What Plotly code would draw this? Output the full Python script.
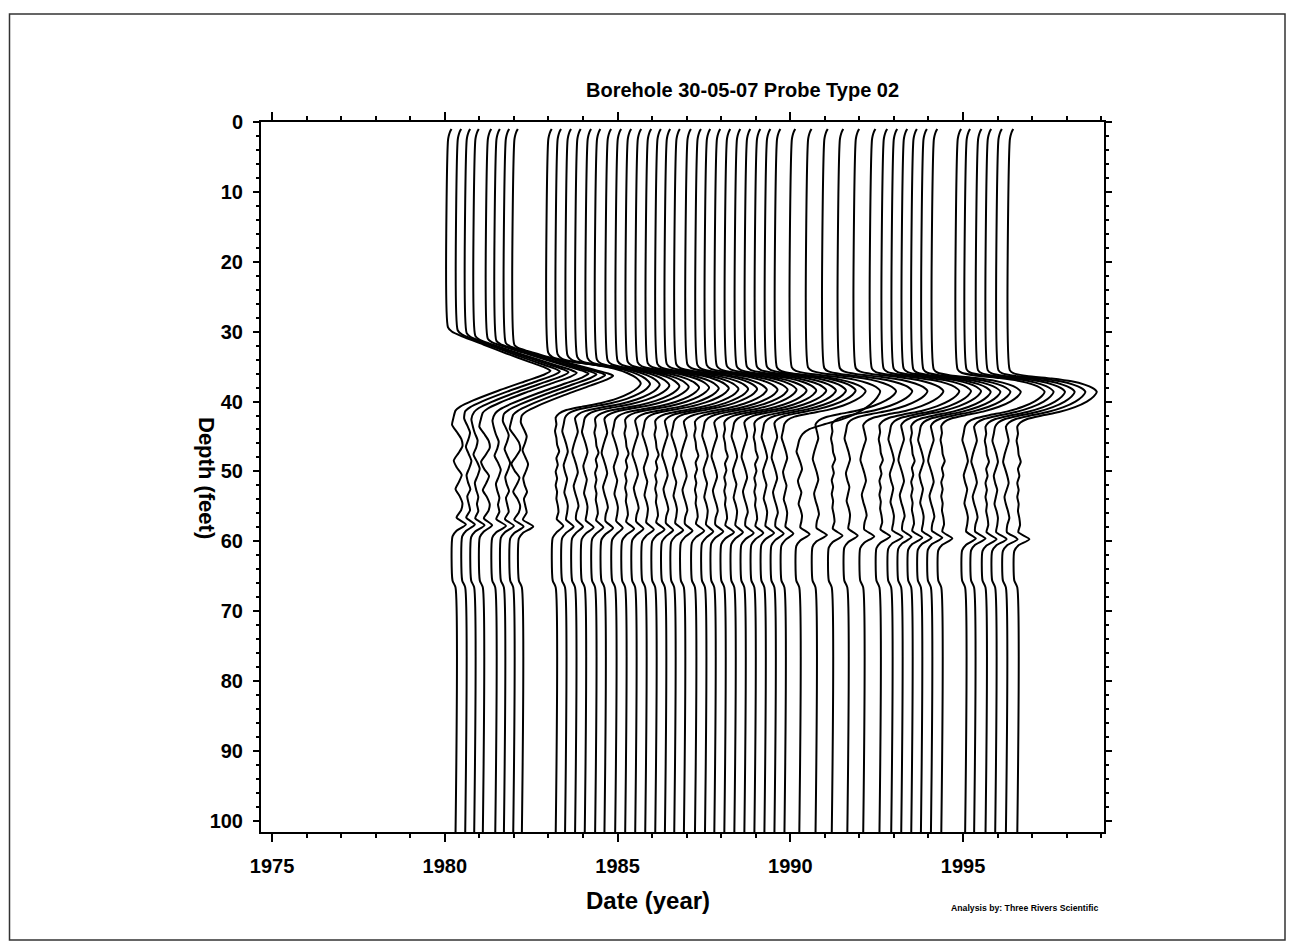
import plotly.graph_objects as go

# ---------------- data ----------------
# Survey dates (baseline of each log at the bottom of the hole), years
DATES = [1980.31, 1980.59, 1980.85, 1981.10, 1981.46, 1981.71, 1981.98, 1982.23,
         1983.21, 1983.48, 1983.77, 1984.05, 1984.35, 1984.62, 1984.93, 1985.22,
         1985.51, 1985.80, 1986.09, 1986.37, 1986.64, 1986.92, 1987.24, 1987.53,
         1987.80, 1988.09, 1988.38, 1988.67, 1988.96, 1989.25, 1989.54, 1989.83,
         1990.26, 1990.73, 1991.20, 1991.65, 1992.11, 1992.58, 1992.92, 1993.21,
         1993.50, 1993.78, 1994.07, 1994.37, 1995.06, 1995.32, 1995.65, 1995.93,
         1996.24, 1996.57]

# depth (ft) where each log starts to swing right
ONSET = [29.4, 29.8, 30.2, 30.6, 31.0, 31.3, 31.6, 31.9,
         33.0, 33.2, 33.4, 33.6, 33.8, 34.0, 34.1, 34.2, 34.3, 34.4, 34.5, 34.6,
         34.6, 34.7, 34.7, 34.8, 34.8, 34.9, 34.9, 35.0, 35.0, 35.0, 35.0, 35.1,
         35.1, 35.1, 35.2, 35.2, 35.2, 35.3, 35.3, 35.3, 35.3, 35.4, 35.4, 35.4,
         35.4, 35.4, 35.5, 35.5, 35.5, 35.5]
# depth (ft) of the peak of the response
TIP = [35.6, 35.7, 35.8, 35.9, 36.0, 36.1, 36.2, 36.3,
       37.4, 37.5, 37.6, 37.7, 37.8, 37.9, 38.0, 38.0, 38.1, 38.1, 38.2, 38.2,
       38.2, 38.3, 38.3, 38.3, 38.3, 38.4, 38.4, 38.4, 38.4, 38.4, 38.4, 38.5,
       38.5, 38.5, 38.5, 38.5, 38.5, 38.5, 38.5, 38.5, 38.6, 38.6, 38.6, 38.6,
       38.6, 38.6, 38.6, 38.6, 38.6, 38.6]
# depth (ft) where the log is back on its baseline
RETURN = [41.3, 41.4, 41.5, 41.6, 41.7, 41.8, 41.9, 42.0,
          42.3, 42.3, 42.4, 42.4, 42.5, 42.5, 42.6, 42.6, 42.7, 42.7, 42.8, 42.8,
          42.8, 42.9, 42.9, 42.9, 43.0, 43.0, 43.0, 43.0, 43.1, 43.1, 43.1, 43.2,
          45.5, 43.3, 43.3, 43.3, 43.4, 43.4, 43.4, 43.4, 43.5, 43.5, 43.5, 43.5,
          43.5, 43.6, 43.6, 43.6, 43.6, 43.6]
# peak deflection (in axis years)
AMP = [2.75, 2.74, 2.73, 2.72, 2.70, 2.68, 2.66, 2.64,
       2.46, 2.46, 2.45, 2.45, 2.44, 2.44, 2.43, 2.43, 2.42, 2.42, 2.41, 2.41,
       2.40, 2.40, 2.39, 2.39, 2.38, 2.38, 2.37, 2.37, 2.36, 2.36, 2.35, 2.35,
       2.34, 2.33, 2.33, 2.32, 2.32, 2.31, 2.31, 2.31, 2.30, 2.30, 2.30, 2.30,
       2.30, 2.30, 2.30, 2.30, 2.30, 2.30]
# depth (ft) and size (years) of the small kick near 58-60 ft
SPIKE_DEPTH = [57.6, 57.6, 57.7, 57.7, 57.8, 57.8, 57.9, 57.9,
               57.8, 57.9, 57.9, 58.0, 58.0, 58.1, 58.1, 58.2, 58.2, 58.3, 58.3, 58.4,
               58.4, 58.5, 58.5, 58.6, 58.6, 58.7, 58.7, 58.8, 58.8, 58.8, 58.9, 58.9,
               59.0, 59.1, 59.2, 59.2, 59.3, 59.3, 59.4, 59.4, 59.5, 59.5, 59.5, 59.6,
               59.6, 59.6, 59.7, 59.7, 59.7, 59.7]
SPIKE_AMP = [0.30, 0.28, 0.30, 0.27, 0.31, 0.29, 0.30, 0.33,
             0.22, 0.25, 0.23, 0.26, 0.24, 0.25, 0.22, 0.26, 0.24, 0.25, 0.27, 0.24,
             0.26, 0.25, 0.27, 0.24, 0.26, 0.28, 0.25, 0.27, 0.26, 0.28, 0.27, 0.26,
             0.30, 0.33, 0.31, 0.30, 0.32, 0.31, 0.33, 0.30, 0.32, 0.31, 0.33, 0.32,
             0.31, 0.33, 0.32, 0.33, 0.34, 0.35]
# which response shape / wiggle pattern each log follows
SHAPE_ID = [0] * 8 + [1] * 42
WIGGLE_ID = [3, 4, 5, 3, 5, 4, 3, 4,
             0, 1, 2, 1, 0, 2, 1, 0, 2, 1, 0, 2, 1, 2, 0, 1, 2, 0, 1, 2, 0, 1, 2, 1,
             1, 2, 0, 1, 2, 0, 1, 2, 0, 1, 2, 0, 1, 2, 0, 1, 2, 0]

# common log pieces (offsets in axis years)
TOP_OFFSET = -0.217
HOOK_DEPTH = [1.0, 1.4, 2.0, 2.6]
HOOK_OFF = [-0.116, -0.160, -0.197, -0.217]

EARLY_UP_U = [0.0, 0.10, 0.20, 0.40, 0.60, 0.80, 0.93, 1.0]
EARLY_UP_F = [0.0, 0.04, 0.13, 0.35, 0.57, 0.80, 0.95, 1.0]
EARLY_DN_V = [0.0, 0.10, 0.25, 0.50, 0.75, 0.90, 1.0]
EARLY_DN_F = [1.0, 0.93, 0.75, 0.45, 0.18, 0.05, 0.0]
LATE_UP_U = [0.0, 0.15, 0.27, 0.39, 0.52, 0.67, 0.82, 1.0]
LATE_UP_F = [0.0, 0.046, 0.195, 0.48, 0.71, 0.86, 0.95, 1.0]
LATE_DN_V = [0.0, 0.14, 0.28, 0.44, 0.58, 0.68, 0.78, 0.88, 1.0]
LATE_DN_F = [1.0, 0.96, 0.875, 0.725, 0.525, 0.31, 0.125, 0.04, 0.0]

WIGGLE_A = [0.02, -0.02, 0.02, 0.04, 0.10, 0.02, 0.06, 0.0, 0.04, 0.0, 0.04, 0.02, 0.06, 0.08]
WIGGLE_B = [-0.04, -0.08, -0.02, 0.04, 0.08, 0.02, -0.04, 0.0, 0.06, 0.02, -0.02, 0.04, 0.08, 0.06]
WIGGLE_C = [0.04, 0.08, 0.02, -0.04, -0.08, -0.02, 0.04, 0.08, 0.02, -0.04, 0.0, 0.06, 0.10, 0.04]
WIGGLE_D = [-0.06, -0.10, 0.04, 0.17, 0.20, 0.08, -0.05, 0.04, 0.18, 0.10, 0.0, 0.12, 0.20, 0.16]
WIGGLE_E = [-0.03, 0.06, 0.14, 0.09, 0.02, 0.10, 0.18, 0.12, 0.04, 0.08, 0.15, 0.06, 0.10, 0.14]
WIGGLE_F = [-0.08, -0.04, 0.02, 0.10, 0.06, -0.02, 0.08, 0.16, 0.10, 0.02, 0.06, 0.12, 0.08, 0.12]

AFTER_SPIKE_REL = [0.9, 1.7]
AFTER_SPIKE_OFF = [0.03, -0.087]
STEP_DEPTH = [65.6, 66.6, 102.0]
STEP_OFF = [-0.087, 0.0, 0.0]

X_TICKS = [1975, 1980, 1985, 1990, 1995]
Y_TICKS = [0, 10, 20, 30, 40, 50, 60, 70, 80, 90, 100]

TITLE = "Borehole 30-05-07 Probe Type 02"
X_TITLE = "Date (year)"
Y_TITLE = "Depth (feet)"
CREDIT = "Analysis by: Three Rivers Scientific"

# ---------------- build the logs ----------------
TEMPLATES = [(EARLY_UP_U, EARLY_UP_F, EARLY_DN_V, EARLY_DN_F),
             (LATE_UP_U, LATE_UP_F, LATE_DN_V, LATE_DN_F)]
WIGGLES = [WIGGLE_A, WIGGLE_B, WIGGLE_C, WIGGLE_D, WIGGLE_E, WIGGLE_F]


def log_curve(i):
    d0 = DATES[i]
    ys, xs = list(HOOK_DEPTH), [d0 + o for o in HOOK_OFF]
    on, tp, rt, a = ONSET[i], TIP[i], RETURN[i], AMP[i]
    ys.append(on)
    xs.append(d0 + TOP_OFFSET)
    up_u, up_f, dn_v, dn_f = TEMPLATES[SHAPE_ID[i]]
    for u, f in zip(up_u[1:], up_f[1:]):
        ys.append(on + u * (tp - on))
        xs.append(d0 + TOP_OFFSET + f * (a - TOP_OFFSET))
    for v, f in zip(dn_v[1:], dn_f[1:]):
        ys.append(tp + v * (rt - tp))
        xs.append(d0 + f * a)
    w = WIGGLES[WIGGLE_ID[i]]
    sd = SPIKE_DEPTH[i]
    end = sd - 1.0
    n = len(w)
    for k, val in enumerate(w):
        ys.append(rt + (k + 1) * (end - rt) / (n + 1))
        xs.append(d0 + val)
    ys.append(end)
    xs.append(d0 + 0.03)
    ys.append(sd)
    xs.append(d0 + SPIKE_AMP[i])
    for r, o in zip(AFTER_SPIKE_REL, AFTER_SPIKE_OFF):
        ys.append(sd + r)
        xs.append(d0 + o)
    for d, o in zip(STEP_DEPTH, STEP_OFF):
        ys.append(d)
        xs.append(d0 + o)
    return xs, ys


fig = go.Figure()
for i in range(len(DATES)):
    xs, ys = log_curve(i)
    fig.add_trace(go.Scatter(x=xs, y=ys, mode="lines",
                             line=dict(color="black", width=2.0, shape="spline",
                                       smoothing=0.6),
                             showlegend=False, hoverinfo="skip"))

FONT = "Liberation Sans, Arial, sans-serif"

# the page body adds an 8px offset; keep the figure inside the window
OFF = 8
W, H = 1294 - 2 * OFF, 949 - 2 * OFF
L, R, T, B = 261 - OFF, 1104 - OFF, 122 - OFF, 832 - OFF


def px(xp):
    return (xp - OFF - L) / (R - L)


def py(yp):
    return (B - (yp - OFF)) / (B - T)


fig.update_layout(
    width=W, height=H,
    margin=dict(l=L, r=W - R, t=T, b=H - B, pad=0),
    plot_bgcolor="white", paper_bgcolor="white",
    font=dict(family=FONT, color="black"),
    xaxis=dict(range=[1974.68, 1999.08], tickvals=X_TICKS, ticks="outside",
               ticklen=8, tickwidth=2, tickcolor="black",
               minor=dict(dtick=1, tick0=1975, ticks="outside", ticklen=4,
                          tickwidth=1.5, tickcolor="black"),
               showline=True, linewidth=2, linecolor="black", mirror="ticks",
               showgrid=False, zeroline=False, ticklabelstandoff=7,
               tickfont=dict(size=20, family=FONT, weight="bold", color="black")),
    yaxis=dict(range=[101.6, 0], tickvals=Y_TICKS, ticks="outside",
               ticklen=6, tickwidth=2, tickcolor="black",
               minor=dict(dtick=2, tick0=0, ticks="outside", ticklen=3,
                          tickwidth=1.5, tickcolor="black"),
               showline=True, linewidth=2, linecolor="black", mirror="ticks",
               showgrid=False, zeroline=False, ticklabelstandoff=6,
               tickfont=dict(size=20, family=FONT, weight="bold", color="black")),
    annotations=[
        dict(text=TITLE, x=px(742), y=py(90), xref="paper", yref="paper",
             showarrow=False, xanchor="center", yanchor="middle",
             font=dict(size=20, family=FONT, weight="bold", color="black")),
        dict(text=X_TITLE, x=px(648), y=py(900), xref="paper", yref="paper",
             showarrow=False, xanchor="center", yanchor="middle",
             font=dict(size=24, family=FONT, weight="bold", color="black")),
        dict(text=Y_TITLE, x=px(207), y=py(478), xref="paper", yref="paper",
             showarrow=False, xanchor="center", yanchor="middle", textangle=90,
             font=dict(size=22, family=FONT, weight="bold", color="black")),
        dict(text=CREDIT, x=px(1024), y=py(908), xref="paper", yref="paper",
             showarrow=False, xanchor="center", yanchor="middle",
             font=dict(size=8.7, family=FONT, weight="bold", color="black")),
    ],
    shapes=[dict(type="rect", xref="paper", yref="paper",
                 x0=px(9.5), x1=px(1285), y0=py(940), y1=py(14),
                 line=dict(color="#333333", width=1.5), fillcolor="rgba(0,0,0,0)")],
)

fig.write_html("out.html")
